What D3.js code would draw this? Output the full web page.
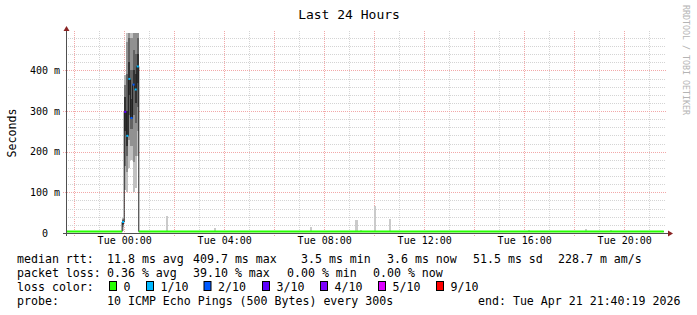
<!DOCTYPE html>
<html><head><meta charset="utf-8">
<script src="https://cdn.jsdelivr.net/npm/d3@7"></script>
<style>
html,body{margin:0;padding:0;background:#fff;}
svg{display:block;}
text{font-family:"DejaVu Sans Mono",monospace;}
</style>
</head><body>
<svg id="chart" width="697" height="315"></svg>
<script>
// ---------------- DATA ----------------
const chartTitle = "Last 24 Hours";
const yAxisTitle = "Seconds";
const watermark = "RRDTOOL / TOBI OETIKER";
const startTime = "2026-04-20T21:40:19Z";
const endTime = "2026-04-21T21:40:19Z";
const stepSeconds = 300;
const yMaxMs = 492;
const yTicksMs = [0, 100, 200, 300, 400];
const yTickLabels = ["0  ", "100 m", "200 m", "300 m", "400 m"];
const xLabelTimes = ["2026-04-21T00:00:00Z","2026-04-21T04:00:00Z","2026-04-21T08:00:00Z",
                     "2026-04-21T12:00:00Z","2026-04-21T16:00:00Z","2026-04-21T20:00:00Z"];

// quiet periods: median rtt (ms), loss 0
const baselineFrom = ["2026-04-20T21:40:00Z", "2026-04-21T00:35:00Z"];
const baselineTo   = ["2026-04-20T23:55:00Z", "2026-04-21T21:35:00Z"];
const baselineMs   = [3.6, 3.6];

// spike steps (each covers 300 s)
const spikeTimes = ["2026-04-20T23:55:00Z","2026-04-21T00:00:00Z","2026-04-21T00:05:00Z","2026-04-21T00:10:00Z",
                    "2026-04-21T00:15:00Z","2026-04-21T00:20:00Z","2026-04-21T00:25:00Z","2026-04-21T00:30:00Z"];
const spikeMedianMs = [27, 298, 239, 379, 283, 365, 353, 409.7];
const spikeLoss = [1, 3, 1, 1, 2, 2, 1, 1];
const spikePingsMs = [
  [6, 14, 19, 23, 27, 29, 31, 34, 38],
  [106, 165, 250, 298, 335, 365, 389],
  [100, 150, 190, 215, 239, 300, 390, 470, 560],
  [160, 230, 290, 340, 379, 420, 480, 540, 640],
  [180, 215, 255, 283, 330, 400, 480, 560],
  [100, 175, 290, 365, 400, 450, 520, 600],
  [110, 190, 270, 320, 353, 390, 440, 500, 580],
  [190, 250, 310, 370, 409.7, 440, 480, 520, 700]
];

// isolated slow pings during quiet periods
const outlierTimes = ["2026-04-21T01:40:00Z","2026-04-21T03:35:00Z","2026-04-21T07:25:00Z","2026-04-21T09:15:00Z",
                      "2026-04-21T09:25:00Z","2026-04-21T10:00:00Z","2026-04-21T10:35:00Z","2026-04-21T16:10:00Z",
                      "2026-04-21T18:25:00Z","2026-04-21T19:25:00Z"];
const outlierLowMs = [3.5, 3.5, 3.5, 3.5, 3.5, 3.5, 3.5, 3.5, 3.5, 3.5];
const outlierMaxMs = [42, 12, 15, 32, 7, 66, 34, 7, 10, 7];

// legend
const lossLevels = [0, 1, 2, 3, 4, 5, 9];
const lossLabels = ["0", "1/10", "2/10", "3/10", "4/10", "5/10", "9/10"];
const lossColors = ["#26ff00", "#00b8ff", "#0059ff", "#5e00ff", "#7e00ff", "#dd00ff", "#ff0000"];
const rowLabels = ["median rtt:", "packet loss:", "loss color:", "probe:"];
const medianStats = ["11.8 ms avg", "409.7 ms max", "3.5 ms min", "3.6 ms now", "51.5 ms sd", "228.7 m am/s"];
const lossStats = ["0.36 % avg", "39.10 % max", "0.00 % min", "0.00 % now"];
const probeText = "10 ICMP Echo Pings (500 Bytes) every 300s";
const endText = "end: Tue Apr 21 21:40:19 2026";

// ---------------- LAYOUT ----------------
const L = 66, R = 666, T = 33, B = 233;
const medianStatX = [107, 193, 301, 387, 473, 558];
const lossStatX = [107, 193, 287, 373];
const boxX = [109, 146, 203.5, 262, 320, 378, 436];
const rowBase = [263, 277, 291, 305];

const svg = d3.select("#chart");
const pt = d3.utcParse("%Y-%m-%dT%H:%M:%SZ");
const x = d3.scaleUtc().domain([pt(startTime), pt(endTime)]).range([L, R]);
const y = d3.scaleLinear().domain([0, yMaxMs]).range([B, T]);
const stepEnd = d => new Date(d.getTime() + stepSeconds * 1000);

svg.append("defs").append("clipPath").attr("id", "plot")
  .append("rect").attr("x", L).attr("y", T).attr("width", R - L).attr("height", B - T);

// grid
const minorColor = "#d4d4d4", majorColor = "#f2a8a8";
const g = svg.append("g");
const hours = d3.utcHour.every(1).range(x.domain()[0], x.domain()[1]);
hours.forEach(h => {
  const major = h.getUTCHours() % 2 === 0;
  const xx = Math.round(x(h)) + 0.5;
  g.append("line").attr("x1", xx).attr("x2", xx).attr("y1", T - 2).attr("y2", major ? B + 3 : B)
    .attr("stroke", major ? majorColor : minorColor).attr("stroke-dasharray", "1,1");
});
d3.range(20, yMaxMs, 20).forEach(v => {
  const major = v % 100 === 0;
  const yy = Math.round(y(v)) + 0.5;
  g.append("line").attr("x1", major ? L - 3 : L).attr("x2", R).attr("y1", yy).attr("y2", yy)
    .attr("stroke", major ? majorColor : minorColor).attr("stroke-dasharray", "1,1");
});

const plot = svg.append("g").attr("clip-path", "url(#plot)");

// smoke
function shade(k, half) {
  const v = Math.round(190 / half * (half - 1 - k)) + 50;
  return d3.rgb(v, v, v).toString();
}
outlierTimes.forEach((t, i) => {
  const d = pt(t);
  plot.append("rect").attr("x", x(d)).attr("width", x(stepEnd(d)) - x(d))
    .attr("y", y(outlierMaxMs[i])).attr("height", y(outlierLowMs[i]) - y(outlierMaxMs[i]))
    .attr("fill", shade(0, 5)).attr("shape-rendering", "crispEdges");
});
spikeTimes.forEach((t, i) => {
  const d = pt(t);
  const p = spikePingsMs[i].slice().sort((a, b) => a - b);
  const half = Math.floor(p.length / 2);
  for (let k = 0; k < half; k++) {
    const lo = p[k], hi = p[p.length - 1 - k];
    plot.append("rect").attr("x", x(d)).attr("width", x(stepEnd(d)) - x(d))
      .attr("y", y(hi)).attr("height", y(lo) - y(hi))
      .attr("fill", shade(k, half)).attr("shape-rendering", "crispEdges");
  }
});

// black median staircase
const medPts = [];
baselineFrom.forEach((f, i) => {
  medPts.push({t: pt(f), v: baselineMs[i]});
  if (i === 0) spikeTimes.forEach((s, j) => medPts.push({t: pt(s), v: spikeMedianMs[j]}));
});
medPts.push({t: pt(baselineTo[baselineTo.length - 1]), v: baselineMs[baselineMs.length - 1]});
plot.append("path").datum(medPts)
  .attr("d", d3.line().x(d => x(d.t)).y(d => y(d.v)).curve(d3.curveStepAfter))
  .attr("fill", "none").attr("stroke", "#202020").attr("stroke-width", 1);

// colored medians
const lossColor = l => lossColors[lossLevels.indexOf(l)];
baselineFrom.forEach((f, i) => {
  plot.append("line").attr("x1", x(pt(f))).attr("x2", x(pt(baselineTo[i])))
    .attr("y1", y(baselineMs[i])).attr("y2", y(baselineMs[i]))
    .attr("stroke", lossColors[0]).attr("stroke-width", 2);
});
spikeTimes.forEach((t, i) => {
  const d = pt(t);
  plot.append("line").attr("x1", x(d)).attr("x2", x(stepEnd(d)))
    .attr("y1", y(spikeMedianMs[i])).attr("y2", y(spikeMedianMs[i]))
    .attr("stroke", lossColor(spikeLoss[i])).attr("stroke-width", 2);
});

// axes lines + arrows
const axisColor = "#505050", arrowColor = "#8a2424";
svg.append("line").attr("x1", L + 0.5).attr("x2", L + 0.5).attr("y1", B + 3).attr("y2", T - 3)
  .attr("stroke", axisColor);
svg.append("line").attr("x1", L - 3).attr("x2", R + 3).attr("y1", B + 0.5).attr("y2", B + 0.5)
  .attr("stroke", axisColor);
svg.append("path").attr("d", `M${L + 0.5},${T - 7}L${L - 2.5},${T - 2}L${L + 3.5},${T - 2}Z`).attr("fill", arrowColor);
svg.append("path").attr("d", `M${R + 7},${B + 0.5}L${R + 2},${B - 2.5}L${R + 2},${B + 3.5}Z`).attr("fill", arrowColor);

// axis labels via d3 axes
const xa = svg.append("g").attr("transform", `translate(0,${B})`)
  .call(d3.axisBottom(x).tickValues(xLabelTimes.map(pt)).tickFormat(d3.utcFormat("%a %H:%M")).tickSize(0).tickPadding(4));
xa.select(".domain").remove();
xa.selectAll("text").attr("font-family", "DejaVu Sans Mono").attr("font-size", 10).attr("fill", "#000");

const ya = svg.append("g").attr("transform", `translate(${L},0)`)
  .call(d3.axisLeft(y).tickValues(yTicksMs).tickFormat((d, i) => yTickLabels[i]).tickSize(0).tickPadding(6));
ya.select(".domain").remove();
ya.selectAll("text").attr("font-family", "DejaVu Sans Mono").attr("font-size", 10).attr("fill", "#000")
  .style("white-space", "pre");

// titles
svg.append("text").attr("x", 349).attr("y", 19).attr("text-anchor", "middle")
  .attr("font-size", 13).text(chartTitle);
svg.append("text").attr("transform", "translate(15.5,133) rotate(-90)").attr("text-anchor", "middle")
  .attr("font-size", 11.6).text(yAxisTitle);
svg.append("text").attr("transform", "translate(683,5) rotate(90)").attr("text-anchor", "start")
  .attr("font-size", 8.3).attr("fill", "#b4b4b4").text(watermark);

// legend
const lg = svg.append("g").attr("font-size", 11.6).attr("fill", "#000");
rowLabels.forEach((r, i) => lg.append("text").attr("x", 17).attr("y", rowBase[i]).text(r));
medianStats.forEach((s, i) => lg.append("text").attr("x", medianStatX[i]).attr("y", rowBase[0]).text(s));
lossStats.forEach((s, i) => lg.append("text").attr("x", lossStatX[i]).attr("y", rowBase[1]).text(s));
lossLabels.forEach((s, i) => {
  lg.append("rect").attr("x", boxX[i] + 0.5).attr("y", rowBase[2] - 9.5).attr("width", 7).attr("height", 9)
    .attr("fill", lossColors[i]).attr("stroke", "#000").attr("stroke-width", 1);
  lg.append("text").attr("x", boxX[i] + 14.5).attr("y", rowBase[2]).text(s);
});
lg.append("text").attr("x", 107).attr("y", rowBase[3]).text(probeText);
lg.append("text").attr("x", 478).attr("y", rowBase[3]).text(endText);
</script>
</body></html>
